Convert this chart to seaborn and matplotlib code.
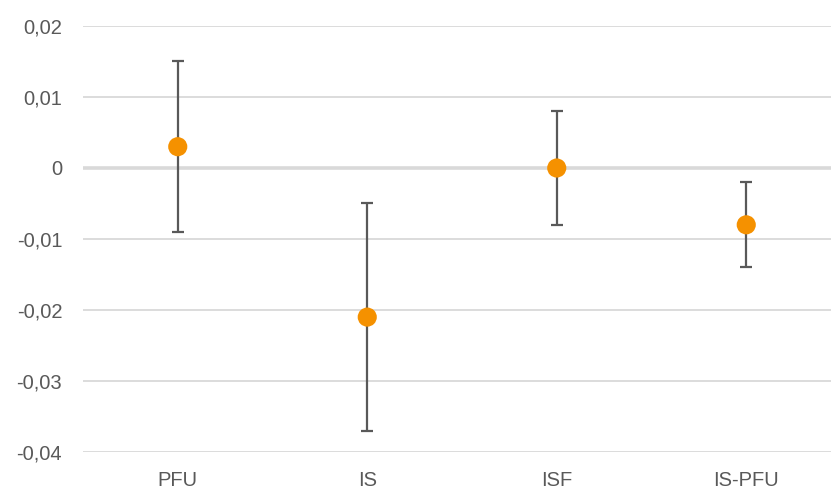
import numpy as np
import pandas as pd
import seaborn as sns
import matplotlib.pyplot as plt

# data
groups = ['PFU', 'IS', 'ISF', 'IS-PFU']
estimate = [0.003, -0.021, 0.0, -0.008]
ci_low = [-0.009, -0.037, -0.008, -0.014]
ci_high = [0.015, -0.005, 0.008, -0.002]

df = pd.DataFrame({'group': groups, 'est': estimate, 'lo': ci_low, 'hi': ci_high})

sns.set_style('white')
plt.rcParams['font.family'] = ['Liberation Sans', 'DejaVu Sans']

fig = plt.figure(figsize=(8.31, 4.91), dpi=100)
ax = fig.add_axes([83 / 831, 39 / 491, (841 - 83) / 831, 426 / 491])

grey = '#595959'
yerr = np.array([df['est'] - df['lo'], df['hi'] - df['est']])
ax.errorbar(np.arange(len(df)), df['est'], yerr=yerr, fmt='none',
            ecolor=grey, elinewidth=1.6, capsize=4.3, capthick=1.6, zorder=3)
sns.scatterplot(data=df, x='group', y='est', color='#F59100', s=190,
                edgecolor='none', zorder=4, ax=ax)

ax.set_xlim(-0.5, 3.5)
ax.set_ylim(-0.04, 0.02)
yt = [-0.04, -0.03, -0.02, -0.01, 0, 0.01, 0.02]
ax.set_yticks(yt)
ax.set_yticklabels(['-0,04', '-0,03', '-0,02', '-0,01', '0', '0,01', '0,02'])
for y in yt:
    if y == 0:
        ax.axhline(y, color='#D9D9D9', lw=2.6, zorder=1)
    else:
        ax.axhline(y, color='#D9D9D9', lw=1.3, zorder=1)

ax.set_xlabel('')
ax.set_ylabel('')
ax.tick_params(axis='both', length=0, colors=grey, labelsize=14.5)
ax.tick_params(axis='y', pad=15)
ax.tick_params(axis='x', pad=14)
for s in ax.spines.values():
    s.set_visible(False)

fig.savefig('out.png', dpi=100)
